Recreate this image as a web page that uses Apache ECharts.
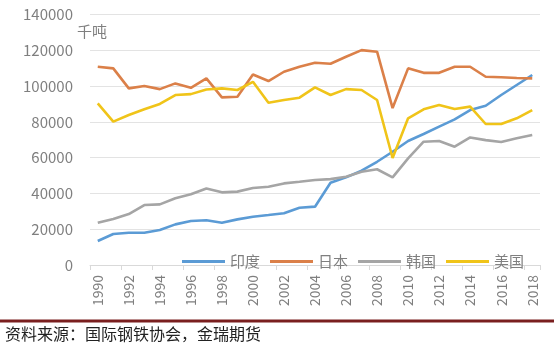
<!DOCTYPE html>
<html>
<head>
<meta charset="utf-8">
<script src="https://cdn.jsdelivr.net/npm/echarts@6/dist/echarts.min.js"></script>
<style>
html,body{margin:0;padding:0;background:#fff;}
#c{width:554px;height:350px;}
</style>
</head>
<body>
<div id="c"></div>
<script>
var years = ['1990','1991','1992','1993','1994','1995','1996','1997','1998','1999','2000','2001','2002','2003','2004','2005','2006','2007','2008','2009','2010','2011','2012','2013','2014','2015','2016','2017','2018'];
var india = [13400,17300,18000,18000,19600,22700,24600,25000,23600,25500,27000,27900,28900,32000,32600,46000,49000,52700,57700,63300,69300,73200,77300,81400,86600,89000,95000,100600,106200];
var japan = [110800,109900,98700,100000,98300,101500,99000,104300,93700,94000,106500,102800,108000,110800,113000,112500,116400,120100,119200,87700,109900,107400,107400,110800,110800,105200,104900,104500,104300];
var korea = [23600,25700,28500,33500,33900,37300,39500,42800,40600,41000,43000,43700,45600,46500,47500,48000,49300,52100,53500,49000,59600,68900,69300,66100,71300,69800,68700,70800,72600];
var usa = [90300,80100,83800,87000,90000,95000,95500,98100,98700,97800,102400,90700,92200,93500,99300,95000,98300,97800,92200,59800,82000,87000,89400,87200,88500,78800,78800,82000,86600];
var seriesNames = ['印度','日本','韩国','美国'];
var colors = ['#5B9BD5','#DB8049','#A5A5A5','#F0C419'];
var unitLabel = '千吨';
var sourceText = '资料来源：国际钢铁协会，金瑞期货';

var chart = echarts.init(document.getElementById('c'), null, {renderer:'canvas'});
var font = '"Noto Sans CJK SC", "Noto Sans", sans-serif';
function mk(name, data, color){
  return {name:name, type:'line', data:data, symbol:'none', smooth:false,
    lineStyle:{width:2.6, color:color}, itemStyle:{color:color}};
}
chart.setOption({
  animation:false,
  backgroundColor:'#fff',
  textStyle:{fontFamily:font},
  grid:{left:90, right:14, top:14.5, bottom:85, containLabel:false},
  legend:{
    data:seriesNames, left:177, top:249, icon:'rect', itemWidth:43, itemHeight:3,
    itemGap:10, textStyle:{fontSize:15, color:'#7F7F7F', fontFamily:font}
  },
  xAxis:{
    type:'category', data:years, boundaryGap:true,
    axisLine:{lineStyle:{color:'#D9D9D9', width:1}},
    axisTick:{show:true, interval:1, length:5, lineStyle:{color:'#D9D9D9'}},
    axisLabel:{interval:1, rotate:90, fontSize:14, color:'#7F7F7F', margin:10, fontFamily:font}
  },
  yAxis:{
    type:'value', min:0, max:140000, interval:20000,
    axisLine:{show:false}, axisTick:{show:false},
    splitLine:{lineStyle:{color:'#E3E3E3', width:1}},
    axisLabel:{fontSize:15, color:'#7F7F7F', margin:17, fontFamily:font,
      formatter:function(v){return String(v);}}
  },
  graphic:[
    {type:'text', left:77, top:24, style:{text:unitLabel, fill:'#7F7F7F', font:'15px '+font}},
    {type:'rect', shape:{x:0, y:319.5, width:554, height:3}, style:{fill:'#7A1F1F'}},
    {type:'text', left:5, top:326, style:{text:sourceText, fill:'#222', font:'16px '+font}}
  ],
  series:[
    mk(seriesNames[0], india, colors[0]),
    mk(seriesNames[1], japan, colors[1]),
    mk(seriesNames[2], korea, colors[2]),
    mk(seriesNames[3], usa, colors[3])
  ]
});
</script>
</body>
</html>
